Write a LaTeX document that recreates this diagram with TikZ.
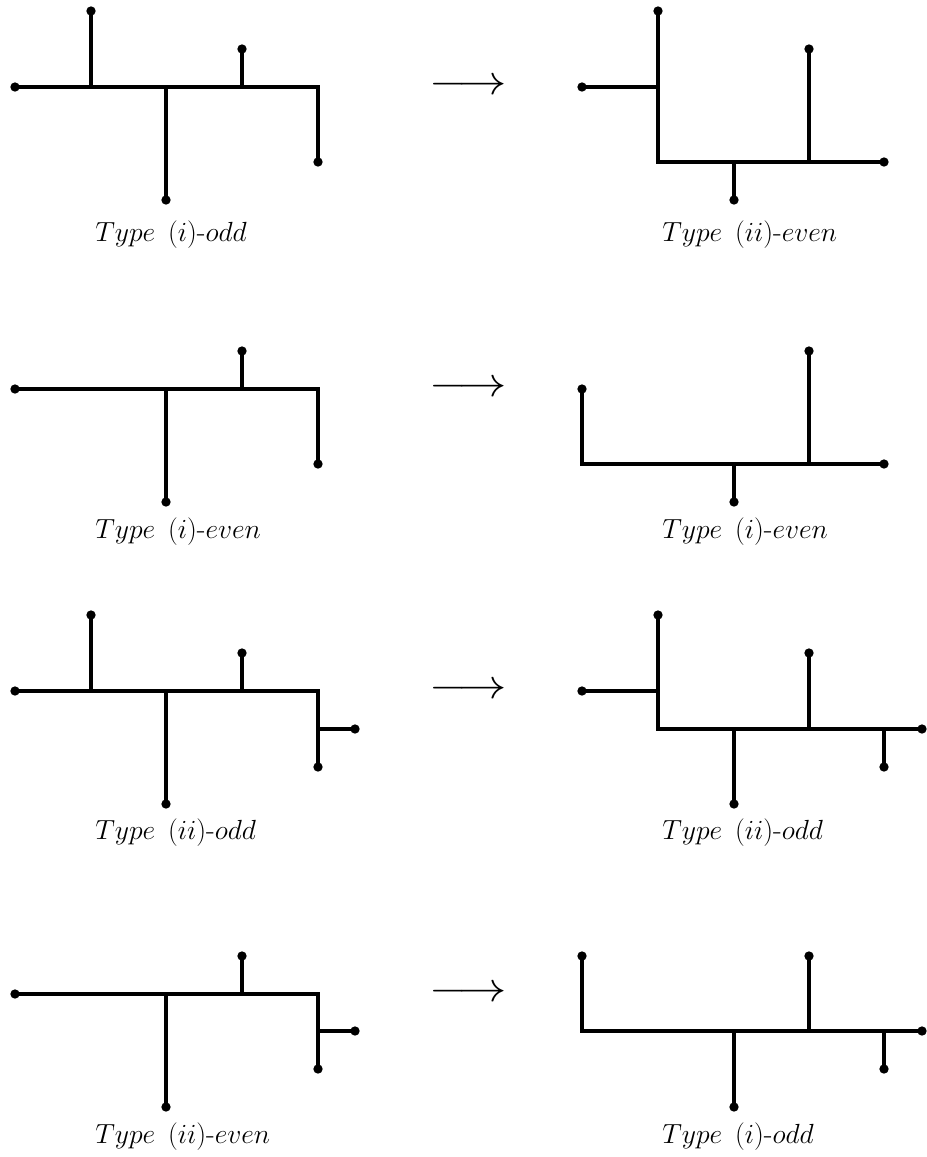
\documentclass[tikz,border=0pt]{standalone}
\usepackage{graphicx}
\newcommand{\typegap}{\mbox{\hspace{0.45em}}}
\begin{document}
\begin{tikzpicture}[x=0.75pt,y=-0.75pt,
  edge/.style={line width=2.7pt,line join=miter},
  leaf/.style={circle,fill=black,inner sep=0pt,minimum size=7pt},
  caption/.style={anchor=base west,inner sep=0pt,font=\fontsize{21.5}{26}\selectfont},
  maps/.style={inner sep=0pt,font=\fontsize{20}{24}\selectfont}]
\useasboundingbox (0,0) rectangle (927,1157);

% ---------- row 1 ----------
\coordinate (a1e) at (318,87);
\coordinate (a1b) at (91,87);  \coordinate (a1c) at (166,87); \coordinate (a1d) at (242,87);
\node[leaf] (a1l1) at (15,87) {};
\node[leaf] (a1l2) at (91,11) {};
\node[leaf] (a1l3) at (166,200) {};
\node[leaf] (a1l4) at (242,49) {};
\node[leaf] (a1l5) at (318,162) {};
\draw[edge] (a1l1.center) -- (a1e) -- (a1l5.center);
\draw[edge] (a1b) -- (a1l2.center);
\draw[edge] (a1c) -- (a1l3.center);
\draw[edge] (a1d) -- (a1l4.center);
\node[caption] (t1a) at (95,241) {$Type\typegap(i)\mbox{-}odd$};

\node[maps] (m1) at (468,87) {\scalebox{1.75}[1.5]{$\longrightarrow$}};

\coordinate (b1a) at (658,87); \coordinate (b1b) at (658,162);
\coordinate (b1c) at (734,162); \coordinate (b1d) at (809,162);
\node[leaf] (b1l1) at (582,87) {};
\node[leaf] (b1l2) at (658,11) {};
\node[leaf] (b1l3) at (884,162) {};
\node[leaf] (b1l4) at (734,200) {};
\node[leaf] (b1l5) at (809,49) {};
\draw[edge] (b1l1.center) -- (b1a);
\draw[edge] (b1l2.center) -- (b1b) -- (b1l3.center);
\draw[edge] (b1c) -- (b1l4.center);
\draw[edge] (b1d) -- (b1l5.center);
\node[caption] (t1b) at (662,241) {$Type\typegap(ii)\mbox{-}even$};

% ---------- row 2 ----------
\coordinate (a2e) at (318,389);
\coordinate (a2c) at (166,389); \coordinate (a2d) at (242,389);
\node[leaf] (a2l1) at (15,389) {};
\node[leaf] (a2l3) at (166,502) {};
\node[leaf] (a2l4) at (242,351) {};
\node[leaf] (a2l5) at (318,464) {};
\draw[edge] (a2l1.center) -- (a2e) -- (a2l5.center);
\draw[edge] (a2c) -- (a2l3.center);
\draw[edge] (a2d) -- (a2l4.center);
\node[caption] (t2a) at (95,538) {$Type\typegap(i)\mbox{-}even$};

\node[maps] (m2) at (468,389) {\scalebox{1.75}[1.5]{$\longrightarrow$}};

\coordinate (b2b) at (582,464);
\coordinate (b2c) at (734,464); \coordinate (b2d) at (809,464);
\node[leaf] (b2l1) at (582,389) {};
\node[leaf] (b2l3) at (884,464) {};
\node[leaf] (b2l4) at (734,502) {};
\node[leaf] (b2l5) at (809,351) {};
\draw[edge] (b2l1.center) -- (b2b) -- (b2l3.center);
\draw[edge] (b2c) -- (b2l4.center);
\draw[edge] (b2d) -- (b2l5.center);
\node[caption] (t2b) at (662,538) {$Type\typegap(i)\mbox{-}even$};

% ---------- row 3 ----------
\coordinate (a3e) at (318,691); \coordinate (a3f) at (318,729);
\coordinate (a3b) at (91,691); \coordinate (a3c) at (166,691); \coordinate (a3d) at (242,691);
\node[leaf] (a3l1) at (15,691) {};
\node[leaf] (a3l2) at (91,615) {};
\node[leaf] (a3l3) at (166,804) {};
\node[leaf] (a3l4) at (242,653) {};
\node[leaf] (a3l5) at (318,767) {};
\node[leaf] (a3l6) at (355,729) {};
\draw[edge] (a3l1.center) -- (a3e) -- (a3l5.center);
\draw[edge] (a3f) -- (a3l6.center);
\draw[edge] (a3b) -- (a3l2.center);
\draw[edge] (a3c) -- (a3l3.center);
\draw[edge] (a3d) -- (a3l4.center);
\node[caption] (t3a) at (95,839) {$Type\typegap(ii)\mbox{-}odd$};

\node[maps] (m3) at (468,691) {\scalebox{1.75}[1.5]{$\longrightarrow$}};

\coordinate (b3a) at (658,691); \coordinate (b3b) at (658,729);
\coordinate (b3c) at (734,729); \coordinate (b3d) at (809,729); \coordinate (b3e) at (884,729);
\node[leaf] (b3l1) at (582,691) {};
\node[leaf] (b3l2) at (658,615) {};
\node[leaf] (b3l3) at (922,729) {};
\node[leaf] (b3l4) at (734,804) {};
\node[leaf] (b3l5) at (809,653) {};
\node[leaf] (b3l6) at (884,767) {};
\draw[edge] (b3l1.center) -- (b3a);
\draw[edge] (b3l2.center) -- (b3b) -- (b3l3.center);
\draw[edge] (b3c) -- (b3l4.center);
\draw[edge] (b3d) -- (b3l5.center);
\draw[edge] (b3e) -- (b3l6.center);
\node[caption] (t3b) at (662,839) {$Type\typegap(ii)\mbox{-}odd$};

% ---------- row 4 ----------
\coordinate (a4e) at (318,994); \coordinate (a4f) at (318,1031);
\coordinate (a4c) at (166,994); \coordinate (a4d) at (242,994);
\node[leaf] (a4l1) at (15,994) {};
\node[leaf] (a4l3) at (166,1107) {};
\node[leaf] (a4l4) at (242,956) {};
\node[leaf] (a4l5) at (318,1069) {};
\node[leaf] (a4l6) at (355,1031) {};
\draw[edge] (a4l1.center) -- (a4e) -- (a4l5.center);
\draw[edge] (a4f) -- (a4l6.center);
\draw[edge] (a4c) -- (a4l3.center);
\draw[edge] (a4d) -- (a4l4.center);
\node[caption] (t4a) at (95,1143) {$Type\typegap(ii)\mbox{-}even$};

\node[maps] (m4) at (468,994) {\scalebox{1.75}[1.5]{$\longrightarrow$}};

\coordinate (b4b) at (582,1031);
\coordinate (b4c) at (734,1031); \coordinate (b4d) at (809,1031); \coordinate (b4e) at (884,1031);
\node[leaf] (b4l1) at (582,956) {};
\node[leaf] (b4l3) at (922,1031) {};
\node[leaf] (b4l4) at (734,1107) {};
\node[leaf] (b4l5) at (809,956) {};
\node[leaf] (b4l6) at (884,1069) {};
\draw[edge] (b4l1.center) -- (b4b) -- (b4l3.center);
\draw[edge] (b4c) -- (b4l4.center);
\draw[edge] (b4d) -- (b4l5.center);
\draw[edge] (b4e) -- (b4l6.center);
\node[caption] (t4b) at (662,1143) {$Type\typegap(i)\mbox{-}odd$};
\end{tikzpicture}
\end{document}
